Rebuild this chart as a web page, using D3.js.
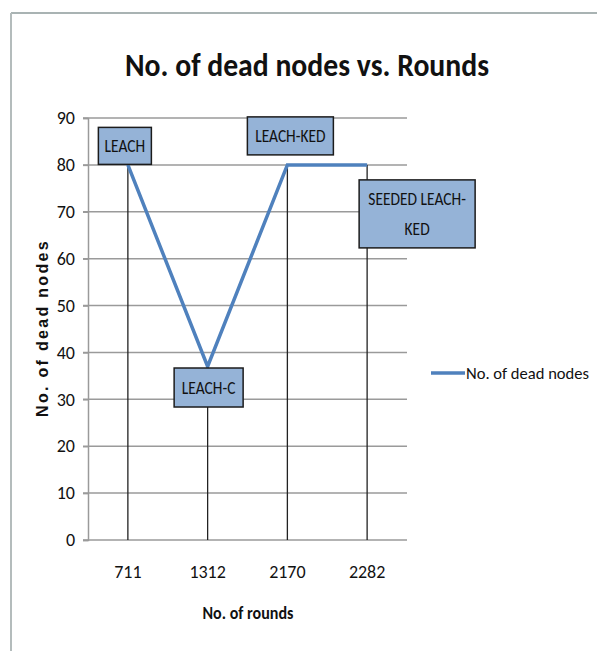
<!DOCTYPE html>
<html>
<head>
<meta charset="utf-8">
<script src="https://cdn.jsdelivr.net/npm/d3@7"></script>
<style>
  body { margin: 0; background: #fff; }
  svg { display: block; }
  text { font-family: Carlito, "Open Sans", sans-serif; fill: #111; }
</style>
</head>
<body>
<svg></svg>
<script>
const width = 597;
const height = 651;

// chart data
const rounds = ["711", "1312", "2170", "2282"];
const deadNodes = [80, 37, 80, 80];
const pointLabels = ["LEACH", "LEACH-C", "LEACH-KED", "SEEDED LEACH-\nKED"];
const yTicks = [0, 10, 20, 30, 40, 50, 60, 70, 80, 90];

const svg = d3.select("svg").attr("width", width).attr("height", height);

// outer frame (only top and left edges show)
svg.append("line").attr("x1", 11).attr("x2", width).attr("y1", 13).attr("y2", 13)
  .attr("stroke", "#a9b3b3").attr("stroke-width", 2);
svg.append("line").attr("x1", 11).attr("x2", 11).attr("y1", 13).attr("y2", height)
  .attr("stroke", "#b4bcbc").attr("stroke-width", 2);

const x = d3.scaleBand().domain(rounds).range([88, 407]);
const y = d3.scaleLinear().domain([0, 90]).range([540, 118]);

// title
svg.append("text")
  .attr("x", 307).attr("y", 76)
  .attr("text-anchor", "middle")
  .attr("textLength", 364)
  .attr("lengthAdjust", "spacingAndGlyphs")
  .style("font-size", "32px").style("font-weight", "bold")
  .text("No. of dead nodes vs. Rounds");

// gridlines
svg.append("g").selectAll("line")
  .data(yTicks.filter(d => d > 0))
  .join("line")
  .attr("x1", 83).attr("x2", 407)
  .attr("y1", d => y(d)).attr("y2", d => y(d))
  .attr("stroke", "#9a9a9a").attr("stroke-width", 1.5);

// y axis
const yAxis = svg.append("g")
  .attr("transform", "translate(88,0)")
  .call(d3.axisLeft(y).tickValues(yTicks).tickSize(5).tickPadding(8));
yAxis.select(".domain").attr("stroke", "#9a9a9a").attr("stroke-width", 1.5);
yAxis.selectAll(".tick line").attr("stroke", "#9a9a9a").attr("stroke-width", 1.5);
yAxis.selectAll("text").style("font-size", "18px").attr("fill", "#222");

// x axis
const xAxis = svg.append("g")
  .attr("transform", "translate(0,540)")
  .call(d3.axisBottom(x).tickSize(0).tickPadding(25));
xAxis.select(".domain").attr("stroke", "#9a9a9a").attr("stroke-width", 1.5)
  .attr("d", "M83,0H407");
xAxis.selectAll("text").style("font-size", "18px").attr("fill", "#222");

// drop lines
svg.append("g").selectAll("line")
  .data(deadNodes)
  .join("line")
  .attr("x1", (d, i) => x(rounds[i]) + x.bandwidth() / 2)
  .attr("x2", (d, i) => x(rounds[i]) + x.bandwidth() / 2)
  .attr("y1", d => y(d)).attr("y2", y(0))
  .attr("stroke", "#222").attr("stroke-width", 1.3);

// series line
const line = d3.line()
  .x((d, i) => x(rounds[i]) + x.bandwidth() / 2)
  .y(d => y(d));
svg.append("path")
  .datum(deadNodes)
  .attr("d", line)
  .attr("fill", "none")
  .attr("stroke", "#4f81bd")
  .attr("stroke-width", 3.5);

// data label boxes: offset (dx, dy) of box centre from point, box size
const labelBoxes = [
  { dx: -3, dy: -19, w: 53, h: 37 },
  { dx: 1, dy: 21, w: 69, h: 39 },
  { dx: 3, dy: -29, w: 86, h: 38 },
  { dx: 50, dy: 49, w: 116, h: 68 }
];
const labels = svg.append("g").selectAll("g")
  .data(deadNodes)
  .join("g")
  .attr("transform", (d, i) => {
    const b = labelBoxes[i];
    return `translate(${x(rounds[i]) + x.bandwidth() / 2 + b.dx},${y(d) + b.dy})`;
  });
labels.append("rect")
  .attr("x", (d, i) => -labelBoxes[i].w / 2)
  .attr("y", (d, i) => -labelBoxes[i].h / 2)
  .attr("width", (d, i) => labelBoxes[i].w)
  .attr("height", (d, i) => labelBoxes[i].h)
  .attr("fill", "#95b3d7")
  .attr("stroke", "#1c1c1c")
  .attr("stroke-width", 1.5);
labels.each(function (d, i) {
  const parts = pointLabels[i].split("\n");
  const t = d3.select(this).append("text")
    .attr("text-anchor", "middle")
    .attr("transform", "scale(0.86,1)")
    .style("font-size", "18px");
  parts.forEach((p, k) => {
    t.append("tspan")
      .attr("x", 0)
      .attr("y", (k - (parts.length - 1) / 2) * 30 + 6)
      .text(p);
  });
});

// axis titles
svg.append("text")
  .attr("transform", "translate(48,328) rotate(-90)")
  .attr("text-anchor", "middle")
  .style("font-family", "'Liberation Sans', Arial, sans-serif")
  .style("font-size", "16px").style("font-weight", "bold")
  .style("letter-spacing", "2.3px")
  .text("No. of dead nodes");
svg.append("text")
  .attr("x", 248).attr("y", 619)
  .attr("text-anchor", "middle")
  .attr("textLength", 91)
  .attr("lengthAdjust", "spacingAndGlyphs")
  .style("font-size", "18px").style("font-weight", "bold")
  .text("No. of rounds");

// legend
svg.append("line")
  .attr("x1", 431).attr("x2", 465).attr("y1", 373).attr("y2", 373)
  .attr("stroke", "#4f81bd").attr("stroke-width", 3.5);
svg.append("text")
  .attr("x", 466).attr("y", 379)
  .attr("textLength", 123)
  .attr("lengthAdjust", "spacingAndGlyphs")
  .style("font-size", "17px")
  .text("No. of dead nodes");
</script>
</body>
</html>
